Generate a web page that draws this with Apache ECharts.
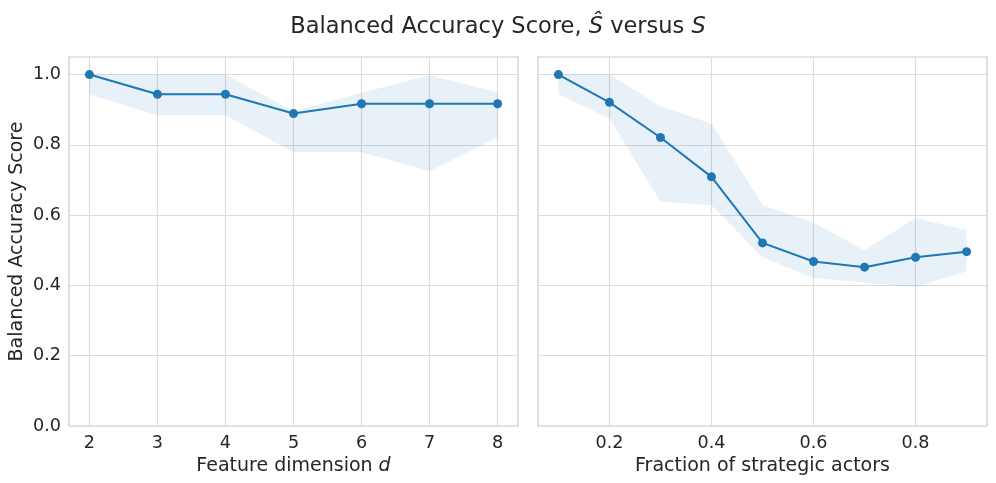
<!DOCTYPE html>
<html><head><meta charset="utf-8">
<script src="https://cdn.jsdelivr.net/npm/echarts@6/dist/echarts.min.js"></script>
<style>html,body{margin:0;padding:0;background:#fff}#c{width:996px;height:483px}</style>
</head><body><div id="c"></div>
<script>
// Left panel: feature dimension d
const dimX = [2, 3, 4, 5, 6, 7, 8];
const dimMean = [1.0, 0.944, 0.944, 0.889, 0.917, 0.917, 0.917];
const dimUpper = [1.0, 1.0, 1.0, 0.895, 0.948, 0.998, 0.95];
const dimLower = [0.943, 0.884, 0.884, 0.779, 0.779, 0.725, 0.822];
// Right panel: fraction of strategic actors
const fracX = [0.1, 0.2, 0.3, 0.4, 0.5, 0.6, 0.7, 0.8, 0.9];
const fracMean = [1.0, 0.921, 0.821, 0.709, 0.521, 0.468, 0.452, 0.480, 0.496];
const fracUpper = [1.0, 1.0, 0.910, 0.860, 0.629, 0.579, 0.500, 0.592, 0.558];
const fracLower = [0.945, 0.874, 0.639, 0.628, 0.481, 0.421, 0.408, 0.395, 0.440];
// Tick labels
const dimTicks = [2, 3, 4, 5, 6, 7, 8];
const fracTicks = [0.2, 0.4, 0.6, 0.8];
const yTicks = [0.0, 0.2, 0.4, 0.6, 0.8, 1.0];

const FONT = 'DejaVu Sans';
const TXT = '#262626';
const BLUE = '#1f77b4';
const GRIDC = '#dcdcdc';
const TICKFS = 17.6;
const LABFS = 19;

function band(xs, up, lo, idx) {
  return {
    type: 'custom', xAxisIndex: idx, yAxisIndex: idx, clip: true, silent: true, z: 1,
    data: [0],
    renderItem: function (params, api) {
      const pts = [];
      for (let i = 0; i < xs.length; i++) pts.push(api.coord([xs[i], up[i]]));
      for (let i = xs.length - 1; i >= 0; i--) pts.push(api.coord([xs[i], lo[i]]));
      return { type: 'polygon', shape: { points: pts }, style: { fill: 'rgba(31,119,180,0.1)', stroke: 'none' } };
    }
  };
}
function line(xs, ys, idx) {
  return {
    type: 'line', xAxisIndex: idx, yAxisIndex: idx, z: 3,
    data: xs.map((x, i) => [x, ys[i]]),
    symbol: 'circle', symbolSize: 9, showSymbol: true,
    lineStyle: { color: BLUE, width: 2 }, itemStyle: { color: BLUE },
    animation: false
  };
}
function xAxis(idx, min, max, ticks, fmt, name) {
  return {
    type: 'value', gridIndex: idx, min: min, max: max,
    axisLine: { show: false }, axisTick: { show: false, customValues: ticks },
    axisLabel: { customValues: ticks, formatter: fmt, color: TXT, fontFamily: FONT, fontSize: TICKFS, margin: 8 },
    splitLine: { show: true, lineStyle: { color: GRIDC, width: 1.2 } },
    name: name, nameLocation: 'middle', nameGap: 31,
    nameTextStyle: { color: TXT, fontFamily: FONT, fontSize: LABFS,
      rich: { it: { fontStyle: 'italic', fontFamily: FONT, fontSize: LABFS, color: TXT } } }
  };
}
function yAxis(idx, showLabels) {
  return {
    type: 'value', gridIndex: idx, min: 0, max: 1.05,
    axisLine: { show: false }, axisTick: { show: false, customValues: yTicks },
    axisLabel: { show: showLabels, customValues: yTicks, formatter: v => v.toFixed(1), color: TXT, fontFamily: FONT, fontSize: TICKFS, margin: 8 },
    splitLine: { show: true, lineStyle: { color: GRIDC, width: 1.2 } },
    name: showLabels ? 'Balanced Accuracy Score' : '', nameLocation: 'middle', nameGap: 42,
    nameTextStyle: { color: TXT, fontFamily: FONT, fontSize: LABFS }
  };
}

const chart = echarts.init(document.getElementById('c'), null, { renderer: 'canvas' });
chart.setOption({
  animation: false,
  backgroundColor: '#ffffff',
  title: {
    text: 'Balanced Accuracy Score, {it|Ŝ} versus {it|S}',
    left: 'center', top: 11,
    textStyle: { color: TXT, fontFamily: FONT, fontSize: 22.5, fontWeight: 'normal',
      rich: { it: { fontStyle: 'italic', fontFamily: FONT, fontSize: 22.5, color: TXT } } }
  },
  grid: [
    { left: 69, right: 478, top: 57, bottom: 57, show: true, borderColor: '#cccccc', borderWidth: 1.2 },
    { left: 538, right: 9, top: 57, bottom: 57, show: true, borderColor: '#cccccc', borderWidth: 1.2 }
  ],
  xAxis: [
    xAxis(0, 1.7, 8.3, dimTicks, v => String(v), 'Feature dimension {it|d}'),
    xAxis(1, 0.06, 0.94, fracTicks, v => v.toFixed(1), 'Fraction of strategic actors')
  ],
  yAxis: [yAxis(0, true), yAxis(1, false)],
  series: [
    band(dimX, dimUpper, dimLower, 0),
    line(dimX, dimMean, 0),
    band(fracX, fracUpper, fracLower, 1),
    line(fracX, fracMean, 1)
  ]
});
</script></body></html>
